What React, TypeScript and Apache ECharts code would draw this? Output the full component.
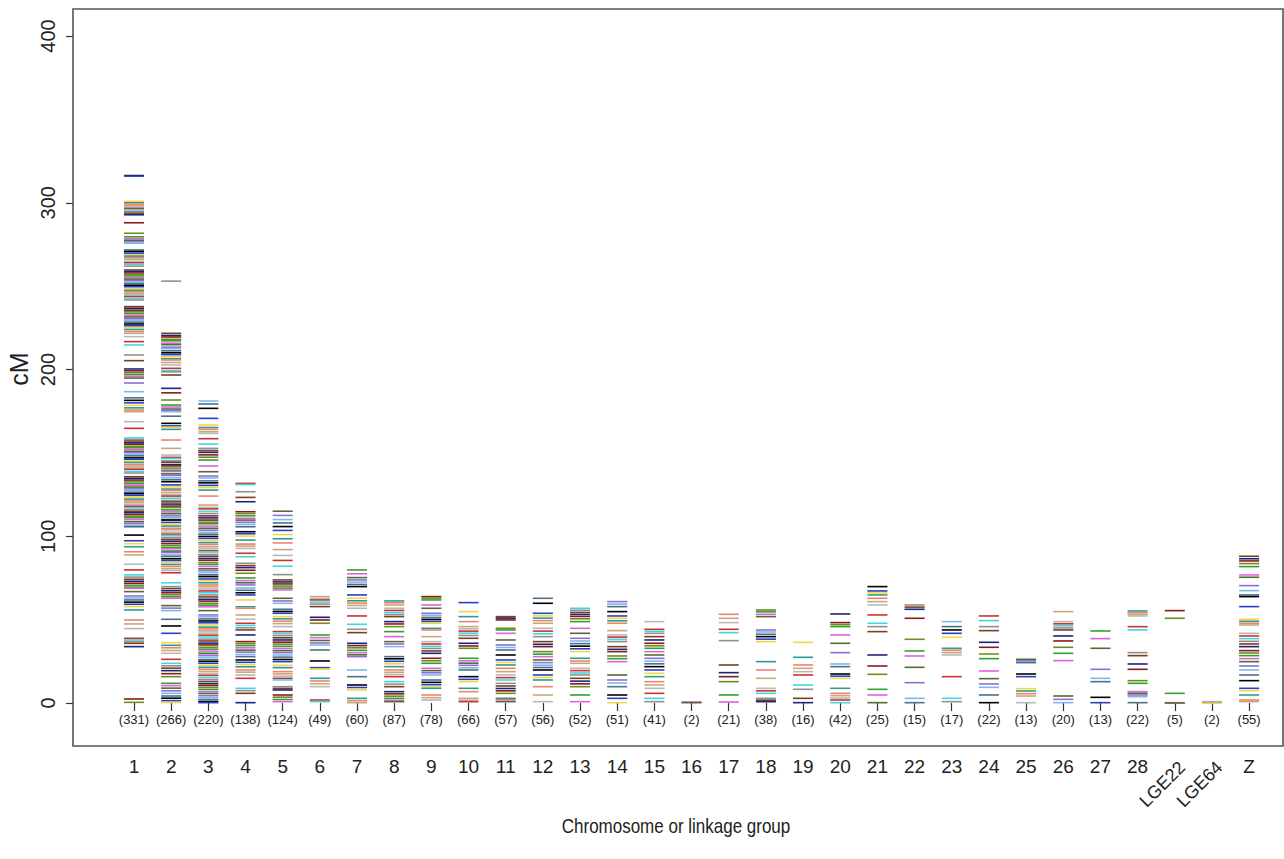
import React, { useEffect, useRef } from "react";
import * as echarts from "echarts";

const categories = ["1","2","3","4","5","6","7","8","9","10","11","12","13","14","15","16","17","18","19","20","21","22","23","24","25","26","27","28","LGE22","LGE64","Z"];
const rotatedNames = ["LGE22", "LGE64"];
const markerCounts = [331,266,220,138,124,49,60,87,78,66,57,56,52,51,41,2,21,38,16,42,25,15,17,22,13,20,13,22,5,2,55];

const chr1 = [316.3,316,300.8,300,299.2,298.3,297.5,296.6,295.8,294.8,293.8,292.8,288,281.7,279.6,278.5,277.5,276.5,275.7,271.7,270.8,269.8,268.8,268,267,266.1,264.9,264,263.1,262,259.7,258.8,257.9,257,256.1,255,254.2,253.3,252.4,251.5,250.5,249.6,248.5,247.5,246.6,245.7,244.8,243.8,242.8,241.7,237.7,236.7,235.6,234.6,233.6,232.5,231.5,230.4,229.5,228.4,227.3,226.2,225.1,224,222.8,221.7,219.7,216.7,214.7,208.7,205.3,200.3,199.2,198.1,197,196,194.9,191.9,186.7,183,181.5,180,178.5,177,175.7,174.7,168.7,164.7,158.9,158,157.1,156,155.2,154,153.1,152.2,151,150.1,149,148.2,147,146.1,145,144.2,143,142.1,141,140.2,138.9,137.9,135.7,134.7,133.7,132.6,131.5,130.5,129.5,128.4,127.5,126.4,125.5,124.5,123.4,122.3,121.2,120.1,119,118,117.1,116,115,114.1,113,112,111.1,110,108.7,107.6,106.5,105.7,100.7,97.3,95.5,93.7,90.7,88.8,83.2,79.8,76.8,75.5,74.2,73,71.8,70.6,69.5,68.8,66.8,64.2,63,61.8,60.5,59.2,57.8,55.8,49.8,47.4,44.6,38.8,37.8,36.8,35.8,33.8,2.4,0.4];
const chr2 = [253,221.7,220.4,219.5,218.1,217.2,215.8,214.9,213.4,212.5,211.2,210,208.9,207.6,206.4,205.7,204.2,202.7,200.7,199.4,198.6,196.7,188.7,186,181.7,178.7,177.5,176.3,175.4,174.7,172,167.7,166.2,165.3,164.1,157.7,152.7,148.7,147.3,146.6,145.2,144.4,143,142.2,140.9,139.6,138.8,137.4,136.5,135.1,133.9,132.7,130.8,129.6,128.3,127.5,126.2,125,124.1,122.8,121.5,120.6,119.3,118.1,117.2,115.8,114.6,113.5,112.2,111.4,110.1,109.7,108.3,107.2,106.1,104.8,103.9,102.5,101.3,100.4,99.2,98.1,97,95.7,94.6,93.4,92.5,91.1,90.2,88.8,87.9,86.5,85.4,84.3,83.1,81.9,80.6,79.5,78.1,72.1,69.8,68.6,67.3,66.1,64.9,63.7,62.8,58.4,56.9,55.4,50.2,46.2,41.8,36.2,34.6,33.1,31.5,29.8,26.2,23.8,22.3,20.9,19.4,17.6,15.8,11.8,10.4,8.9,7.3,5.8,4.2,2.9,1.4,0.3];
const chr3 = [181.1,179.3,176.7,170.7,166.7,165.2,164.1,162.7,161.7,158.5,155.3,152.7,151.4,150.3,148.8,147.4,145.7,142.1,138.7,136.1,134.9,133.2,132,130.5,129.2,127.7,124.1,118.7,117.3,116.4,114.9,113.6,112.2,111,109.7,108.4,107.5,106.1,104.8,103.6,102.3,101.2,99.9,98.7,97.5,96.2,95.1,93.8,92.7,91.4,90.5,89.1,88,86.7,85.6,84.2,83.1,81.9,80.5,79.4,78.2,76.9,75.8,74.4,73.3,72.1,70.8,69.7,68.4,67.2,66.1,64.8,63.6,62.2,61.1,59.8,58.7,57.7,55.4,52.8,51.7,50.4,49.2,48.1,46.8,45.5,44.4,43.2,41.9,40.7,39.6,38.3,37.2,35.9,34.8,33.4,32.3,31.1,29.8,28.6,27.5,26.1,25,23.8,22.5,21.4,20.2,18.9,17.7,16.6,15.3,14.1,12.9,11.6,10.5,9.3,8.1,6.8,5.7,4.4,3.3,2.1,0.9,0.2];
const chr4 = [131.7,131,126.7,123.3,120.7,114.7,113.6,112.3,110.8,109.7,108.4,107.1,105.7,102.7,101.5,100.1,97.7,95.3,94.1,92.7,89.8,87.7,83.8,82.4,81.2,79.6,77.8,75,73.4,72.1,70.8,69,67.6,66.1,64.8,61.8,57.7,56.8,52.8,50.2,47.8,46.5,45.1,43.8,40.8,36.8,35.6,34.4,33.1,31.7,30.5,29.1,27.8,25.8,24.4,23,21.7,19.8,18.5,16.8,14.8,8.8,7.4,5.8,0.2];
const chr5 = [115,112.5,110,108,105.8,103.5,101,98.5,96,92,88.5,85.5,82,77,73.8,72.6,71.4,70.1,68.9,67.8,62.8,61.2,59.8,56.2,54.9,53.8,51.8,50.5,49.1,47.6,45.8,42.8,41.6,40.4,39.1,37.8,36.5,35.3,34,32.7,31.4,30.2,28.8,27.5,26.1,24.8,22.6,21.2,18.8,17.5,16.1,14.8,13.8,9.8,8.7,7.8,4.8,3.5,2.1,0.8];
const chr6 = [63.8,62.6,61.8,60.5,59.3,57.8,51.4,49.8,47.8,40.8,39.2,37.5,36,34.8,31.8,25.2,21.2,20.3,14.8,13.2,11.5,9.8,1.8,0.8];
const chr7 = [79.8,77.5,75.2,73.8,72.5,71.1,69.8,64.8,62.8,61.3,59.9,58.5,56.8,52.2,47.2,44.2,42.2,35.8,34.4,33.1,31.6,30.2,28.9,27.8,19.8,15.8,10.8,9.3,7.8,2.8,1.4,0.2];
const chr8 = [61.2,60.1,58.8,56.8,55.5,54.2,53,51.8,48.8,47.4,45.8,42.8,39.8,36.8,35.4,33.8,27.8,26.5,25,23.5,21.8,19.8,18.4,17.1,15.8,12.8,11.3,9.8,6.8,5.5,4.1,2.8,1.6,0.8];
const chr9 = [63.8,62.9,61.8,58.8,56.8,53.8,52.6,51.3,50.1,48.9,47.8,44.8,43.8,39.8,36.8,35.4,34,32.7,31.2,29.8,26.8,25.3,23.8,20.8,19.4,18.1,16.8,13.8,12.4,11,9.7,8.8,4.8,3.2,1.8];
const chr10 = [60.2,54.8,51.8,48.8,45.8,44.5,43.1,41.9,40.5,38.8,35.8,34.2,32.8,26.8,25.3,23.9,22.6,21.1,19.8,15.8,14.2,12.8,8.8,6.8,2.8,1.7,0.8];
const chr11 = [51.8,50.9,49.8,44.8,43.8,41.8,37.8,34.8,33.3,31.8,28.8,25.8,24.3,22.8,20.8,18.8,16.8,15.2,13.8,11.8,10.2,8.7,7.3,5.8,2.8,1.9,0.8];
const chr12 = [62.8,59.8,53.8,52.3,50.9,49.4,47.8,44.8,43.1,41.5,39.8,36.8,35.2,33.8,30.8,29.3,27.8,25.8,24.2,22.7,21.3,19.8,16.8,15.3,13.8,9.8,4.8,0.8];
const chr13 = [56.8,55.6,54.3,53.1,51.9,50.5,48.8,44.8,41.8,38.8,37.2,35.6,34.1,32.5,30.8,26.8,25.2,23.8,20.8,19.4,18,16.8,14.8,13.1,11.5,9.8,4.8,0.8];
const chr14 = [60.8,59.3,57.8,54.8,52.2,50.8,49.3,47.8,43.4,40.8,39.5,38.1,36.8,33.8,32.2,30.8,28.2,26.6,24.8,16.8,13.8,12,9.8,4.8,2.8,0.2];
const chr15 = [48.8,44.2,43,41.8,39.8,37.8,35.8,34.3,32.8,30.8,28.8,26.8,25.1,23.5,21.8,19.8,17.8,15.8,12.8,10.8,8.8,5.8,2.8,0.8];
const chr16 = [0.6,0.2];
const chr17 = [53.2,50.8,48.2,44.2,42.2,37.4,22.8,18.2,15.8,12.8,4.8,0.6];
const chr18 = [55.8,54.7,53.2,51.8,43.8,42.6,41.2,39.8,38.3,36.8,24.8,19.8,14.8,8.8,7.3,5.8,2.8,1.7,0.8];
const chr19 = [36.4,27.4,22.8,20.8,18.8,16.8,10.8,8.2,2.8,0.2];
const chr20 = [53.4,48.2,47,45.8,40.8,35.8,30.2,23.4,21.8,17.4,16.1,14.8,8.8,5.8,4.4,3,1.8,0.2];
const chr21 = [69.8,67.2,66,64.8,62.8,60.8,58.8,52.8,47.8,45.8,42.8,28.8,22.2,17.2,8.2,4.8,0.2];
const chr22 = [58.8,57.5,56.2,50.8,38.2,31.2,28.2,21.4,12.2,2.8,0.2];
const chr23 = [48.8,45.8,43.8,41.8,39.4,32.8,31.6,30.2,28.8,15.8,2.8,0.8];
const chr24 = [52.2,49.4,45.8,43.4,36.4,33.4,29.4,26.6,19.2,14.6,11.4,9.4,4.8,0.2];
const chr25 = [26.2,25.4,24.6,24.2,17.4,15.8,8.6,7.2,5.6,4.2,0.2];
const chr26 = [54.8,48.8,47.5,46.3,45,43.8,40.2,37.2,33.4,29.8,25.4,4.2,2.2,0.2];
const chr27 = [43.2,38.6,32.8,20.2,14.8,12.8,3.4,0.2];
const chr28 = [55.2,54.2,53.2,52.2,45.8,43.8,30.2,28.4,23.4,20.2,13.4,11.8,6.8,5.8,4.8,3.8,0.2];
const chrLGE22 = [55.4,50.8,5.8,0.2,0];
const chrLGE64 = [0.4,0];
const chrZ = [88,86.5,85.2,83.6,81.8,76.8,75.4,70.4,67.4,64.8,63.8,57.8,50.2,49,47.8,46.8,41.8,40.2,38.6,37,35.4,33.8,31.4,30,28.4,26.6,24.8,22.2,19.8,16.8,13.4,8.8,7.4,4.8,1.8,0.8];

const positions = [chr1,chr2,chr3,chr4,chr5,chr6,chr7,chr8,chr9,chr10,chr11,chr12,chr13,chr14,chr15,chr16,chr17,chr18,chr19,chr20,chr21,chr22,chr23,chr24,chr25,chr26,chr27,chr28,chrLGE22,chrLGE64,chrZ];

const yMin = 0;
const yMax = 400;
const yStep = 100;

const palette = ["#000000","#D03030","#33A02C","#2840C8","#40D8E0","#E060E0","#F2D840","#909090","#556B2F","#2A9D8F","#7B3F1D","#8E6FD8","#F08070","#1A237E","#7FB8E8","#C8A878","#8B1A1A","#4A708B","#B8B8B8","#6B8E23"];

const FONT = "'Liberation Sans', Arial, Helvetica, sans-serif";

export default function App() {
  const ref = useRef<HTMLDivElement>(null);
  useEffect(() => {
    if (!ref.current) return;
    const chart = echarts.init(ref.current, null, { renderer: "svg" });
    const markerData: number[][] = [];
    positions.forEach((arr, c) => {
      arr.forEach((v, i) => {
        markerData.push([c, v, (i * 3 + c * 7) % palette.length]);
      });
    });
    const countData = markerCounts.map((n, c) => [c, 0, n]);
    const rotData = categories
      .map((name, c) => [c, 0, rotatedNames.indexOf(name)])
      .filter((d) => d[2] >= 0);

    chart.setOption({
      animation: false,
      backgroundColor: "#ffffff",
      grid: { left: 115.4, right: 16.3, top: 36, bottom: 156, containLabel: false },
      xAxis: {
        type: "category",
        data: categories,
        boundaryGap: true,
        position: "bottom",
        offset: 43,
        axisLine: { show: false },
        axisTick: { show: true, alignWithLabel: true, length: 8, lineStyle: { color: "#333", width: 1.2 } },
        axisLabel: {
          interval: 0,
          fontSize: 19,
          color: "#222",
          fontFamily: FONT,
          margin: 11,
          formatter: (v: string) => (rotatedNames.indexOf(v) >= 0 ? "" : v),
        },
        splitLine: { show: false },
      },
      yAxis: {
        type: "value",
        min: yMin,
        max: yMax,
        interval: yStep,
        offset: 42.4,
        axisLine: { show: false },
        axisTick: { show: true, length: 7, lineStyle: { color: "#333", width: 1.2 } },
        axisLabel: { rotate: 90, fontSize: 20, color: "#222", fontFamily: FONT, margin: 15 },
        splitLine: { show: false },
      },
      series: [
        {
          type: "custom",
          clip: false,
          data: markerData,
          renderItem: (params: any, api: any) => {
            const p = api.coord([api.value(0), api.value(1)]);
            const half = api.size([1, 0])[0] * 0.27;
            return {
              type: "line",
              shape: { x1: p[0] - half, y1: p[1], x2: p[0] + half, y2: p[1] },
              style: { stroke: palette[api.value(2)], lineWidth: 1.6 },
            };
          },
        },
        {
          type: "custom",
          clip: false,
          data: countData,
          renderItem: (params: any, api: any) => {
            const p = api.coord([api.value(0), api.value(1)]);
            return {
              type: "text",
              x: p[0],
              y: p[1] + 16,
              style: {
                text: "(" + api.value(2) + ")",
                fontSize: 13,
                fontFamily: FONT,
                fill: "#222",
                align: "center",
                verticalAlign: "middle",
              },
            };
          },
        },
        {
          type: "custom",
          clip: false,
          data: rotData,
          renderItem: (params: any, api: any) => {
            const p = api.coord([api.value(0), api.value(1)]);
            return {
              type: "text",
              x: p[0] + 1,
              y: p[1] + 55,
              rotation: Math.PI / 4,
              style: {
                text: rotatedNames[api.value(2)],
                fontSize: 18,
                fontFamily: FONT,
                fill: "#222",
                align: "right",
                verticalAlign: "top",
              },
            };
          },
        },
      ],
      graphic: [
        {
          type: "rect",
          shape: { x: 73, y: 9, width: 1210, height: 737 },
          style: { fill: "none", stroke: "#555", lineWidth: 1.6 },
          silent: true,
        },
        {
          type: "text",
          x: 19,
          y: 369,
          rotation: Math.PI / 2,
          style: { text: "cM", fontSize: 25, fontFamily: FONT, fill: "#222", align: "center", verticalAlign: "middle" },
        },
        {
          type: "text",
          x: 676,
          y: 826,
          scaleX: 0.85,
          style: { text: "Chromosome or linkage group", fontSize: 20, fontFamily: FONT, fill: "#222", align: "center", verticalAlign: "middle" },
        },
      ],
    });
    return () => chart.dispose();
  }, []);
  return <div ref={ref} style={{ position: "absolute", left: 0, top: 0, width: 1284, height: 859 }} />;
}
